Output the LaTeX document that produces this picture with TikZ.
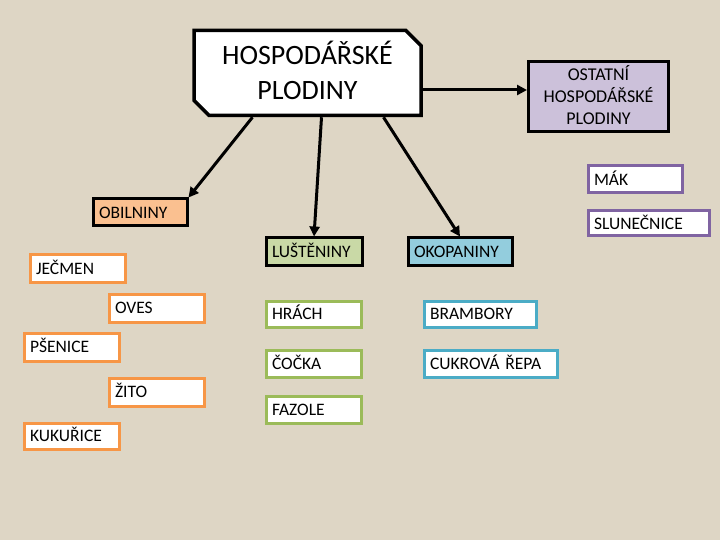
\documentclass[tikz,border=0pt]{standalone}
\usepackage{fontspec}
\setmainfont{Carlito}
\usetikzlibrary{arrows.meta,shapes.misc}
\definecolor{linen}{HTML}{DED6C5}
\definecolor{peach}{HTML}{FAC090}
\definecolor{orng}{HTML}{F79646}
\definecolor{sage}{HTML}{C9D9A6}
\definecolor{olive}{HTML}{9BBB59}
\definecolor{sky}{HTML}{93CDDD}
\definecolor{aqua}{HTML}{4BACC6}
\definecolor{lilac}{HTML}{CCC1DA}
\definecolor{plum}{HTML}{8064A2}
\tikzset{
 grp/.style={draw=black,line width=3bp,anchor=north west,minimum height=27bp,
  inner xsep=6bp,text height=11.3bp,text depth=0bp,align=left,
  font=\fontsize{17.5bp}{21bp}\selectfont,text width=#1},
 item/.style={grp=#1,fill=white},
 arr/.style={line width=3bp,-{Triangle[length=10bp,width=10bp]}},
}

\begin{document}
\begin{tikzpicture}[x=1bp,y=-1bp]
 \fill[linen] (0,0) rectangle (720,540);
 \useasboundingbox (0,0) rectangle (720,540);
 % top
 \node[chamfered rectangle,chamfered rectangle corners={north east,south west},
  chamfered rectangle xsep=12bp,draw=black,line width=3.5bp,fill=white,
  minimum width=227bp,minimum height=85bp,align=center,
  text height=53.5bp,text depth=0bp,
  font=\fontsize{28bp}{35.5bp}\selectfont] (hp) at (307.5,73) {HOSPODÁŘSKÉ\\PLODINY};
 \node[draw=black,line width=3bp,fill=lilac,minimum width=140bp,minimum height=70bp,
  align=center,text height=55.6bp,text depth=0bp,
  font=\fontsize{18bp}{22bp}\selectfont] (ost) at (598.5,96.5)
  {OSTATNÍ\\HOSPODÁŘSKÉ\\PLODINY};
 \node[item=82bp,draw=plum] (mak) at (586.5,164.5) {MÁK};
 \node[item=109bp,draw=plum,minimum height=25bp] (slu) at (586.5,209.5) {SLUNEČNICE};
 % obilniny
 \node[grp=82bp,fill=peach] (obl) at (91.5,197.5) {OBILNINY};
 \node[item=83bp,draw=orng] (jec) at (28.5,253.5) {JEČMEN};
 \node[item=83bp,draw=orng,minimum height=28bp] (ove) at (107.5,292.5) {OVES};
 \node[item=83bp,draw=orng,minimum height=28bp] (pse) at (22.5,331.5) {PŠENICE};
 \node[item=83bp,draw=orng,minimum height=28bp] (zit) at (107.5,376.5) {ŽITO};
 \node[item=83bp,draw=orng,minimum height=26bp] (kuk) at (22.5,421.5) {KUKUŘICE};
 % lusteniny
 \node[grp=84bp,fill=sage] (lus) at (264.5,236.5) {LUŠTĚNINY};
 \node[item=83bp,draw=olive,minimum height=26bp] (hra) at (264.5,299.5) {HRÁCH};
 \node[item=83bp,draw=olive] (coc) at (264.5,348.5) {ČOČKA};
 \node[item=83bp,draw=olive] (faz) at (264.5,394.5) {FAZOLE};
 % okopaniny
 \node[grp=92bp,fill=sky] (oko) at (406.5,236.5) {OKOPANINY};
 \node[item=100bp,draw=aqua,minimum height=26bp] (bra) at (422.5,299.5) {BRAMBORY};
 \node[item=121bp,draw=aqua] (cuk) at (422.5,348.5) {CUKROVÁ ŘEPA};
 % sipky
 \draw[arr] ([yshift=-17bp]hp.east) -- ([yshift=-17bp]hp.east -| ost.west);
 \draw[arr] ([xshift=-55bp]hp.south) -- (obl.north east);
 \draw[arr] ([xshift=14bp]hp.south) -- (lus.north);
 \draw[arr] ([xshift=76bp]hp.south) -- (oko.north);
\end{tikzpicture}
\end{document}
